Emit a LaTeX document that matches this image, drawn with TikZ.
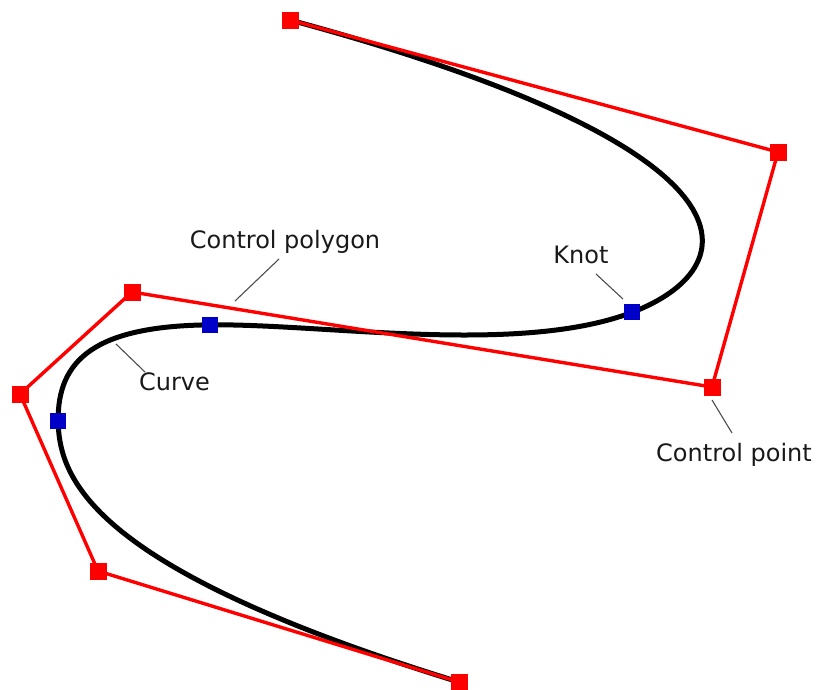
\documentclass[tikz,border=0pt]{standalone}
\usepackage{fontspec}
\setmainfont{DejaVu Sans}
\usetikzlibrary{calc}
\definecolor{knotblue}{RGB}{0,0,200}
\begin{document}
\begin{tikzpicture}[x=1pt,y=-1pt,
  ctrlpt/.style={rectangle, fill=red, draw=none, minimum size=17pt, inner sep=0pt},
  knotpt/.style={rectangle, fill=knotblue, draw=none, minimum size=16pt, inner sep=0pt},
  polyline/.style={red, line width=3.4pt, line join=miter},
  splinecurve/.style={black, line width=5pt},
  leader/.style={draw=black!70, line width=1.1pt},
  lbl/.style={font=\fontsize{24}{28}\selectfont, text=black!90, inner sep=0pt, anchor=base}]
\useasboundingbox (0,0) rectangle (819,689);

% de Boor (control) points of the clamped cubic B-spline
\coordinate (d0) at (290,20);
\coordinate (d1) at (778,152);
\coordinate (d2) at (712,387);
\coordinate (d3) at (132,292);
\coordinate (d4) at (20,394);
\coordinate (d5) at (98,571);
\coordinate (d6) at (459,682);

% Bezier points of the four spans (uniform interior knots)
\coordinate (b2)  at ($(d1)!0.5!(d2)$);
\coordinate (b4)  at ($(d2)!1/3!(d3)$);
\coordinate (b5)  at ($(d2)!2/3!(d3)$);
\coordinate (b7)  at ($(d3)!1/3!(d4)$);
\coordinate (b8)  at ($(d3)!2/3!(d4)$);
\coordinate (b10) at ($(d4)!0.5!(d5)$);
\coordinate (k1) at ($(b2)!0.5!(b4)$);
\coordinate (k2) at ($(b5)!0.5!(b7)$);
\coordinate (k3) at ($(b8)!0.5!(b10)$);

% the curve
\draw[splinecurve] (d0) .. controls (d1) and (b2) .. (k1)
  .. controls (b4) and (b5) .. (k2)
  .. controls (b7) and (b8) .. (k3)
  .. controls (b10) and (d5) .. (d6);

% control polygon
\draw[polyline] (d0) -- (d1) -- (d2) -- (d3) -- (d4) -- (d5) -- (d6);

% labels
\node[lbl] (lpoly)  at (285,248) {Control polygon};
\node[lbl] (lknot)  at (581,263) {Knot};
\node[lbl] (lcp)    at (734,461) {Control point};
\node[lbl] (lcurve) at (174.5,390) {Curve};

% leader line ends
\coordinate (poly-a)  at (279,259);
\coordinate (poly-b)  at (235,301);
\coordinate (knot-a)  at (596,274);
\coordinate (knot-b)  at (623,299);
\coordinate (cp-a)    at (712,400);
\coordinate (cp-b)    at (732,433);
\coordinate (curve-a) at (116,344);
\coordinate (curve-b) at (145,372);

\draw[leader] (poly-a) -- (poly-b);
\draw[leader] (knot-a) -- (knot-b);
\draw[leader] (cp-a) -- (cp-b);
\draw[leader] (curve-a) -- (curve-b);

% knots
\node[knotpt] (n1) at (k1) {};
\node[knotpt] (n2) at (k2) {};
\node[knotpt] (n3) at (k3) {};

% control points
\node[ctrlpt] (c0) at (d0) {};
\node[ctrlpt] (c1) at (d1) {};
\node[ctrlpt] (c2) at (d2) {};
\node[ctrlpt] (c3) at (d3) {};
\node[ctrlpt] (c4) at (d4) {};
\node[ctrlpt] (c5) at (d5) {};
\node[ctrlpt] (c6) at (d6) {};
\end{tikzpicture}
\end{document}
